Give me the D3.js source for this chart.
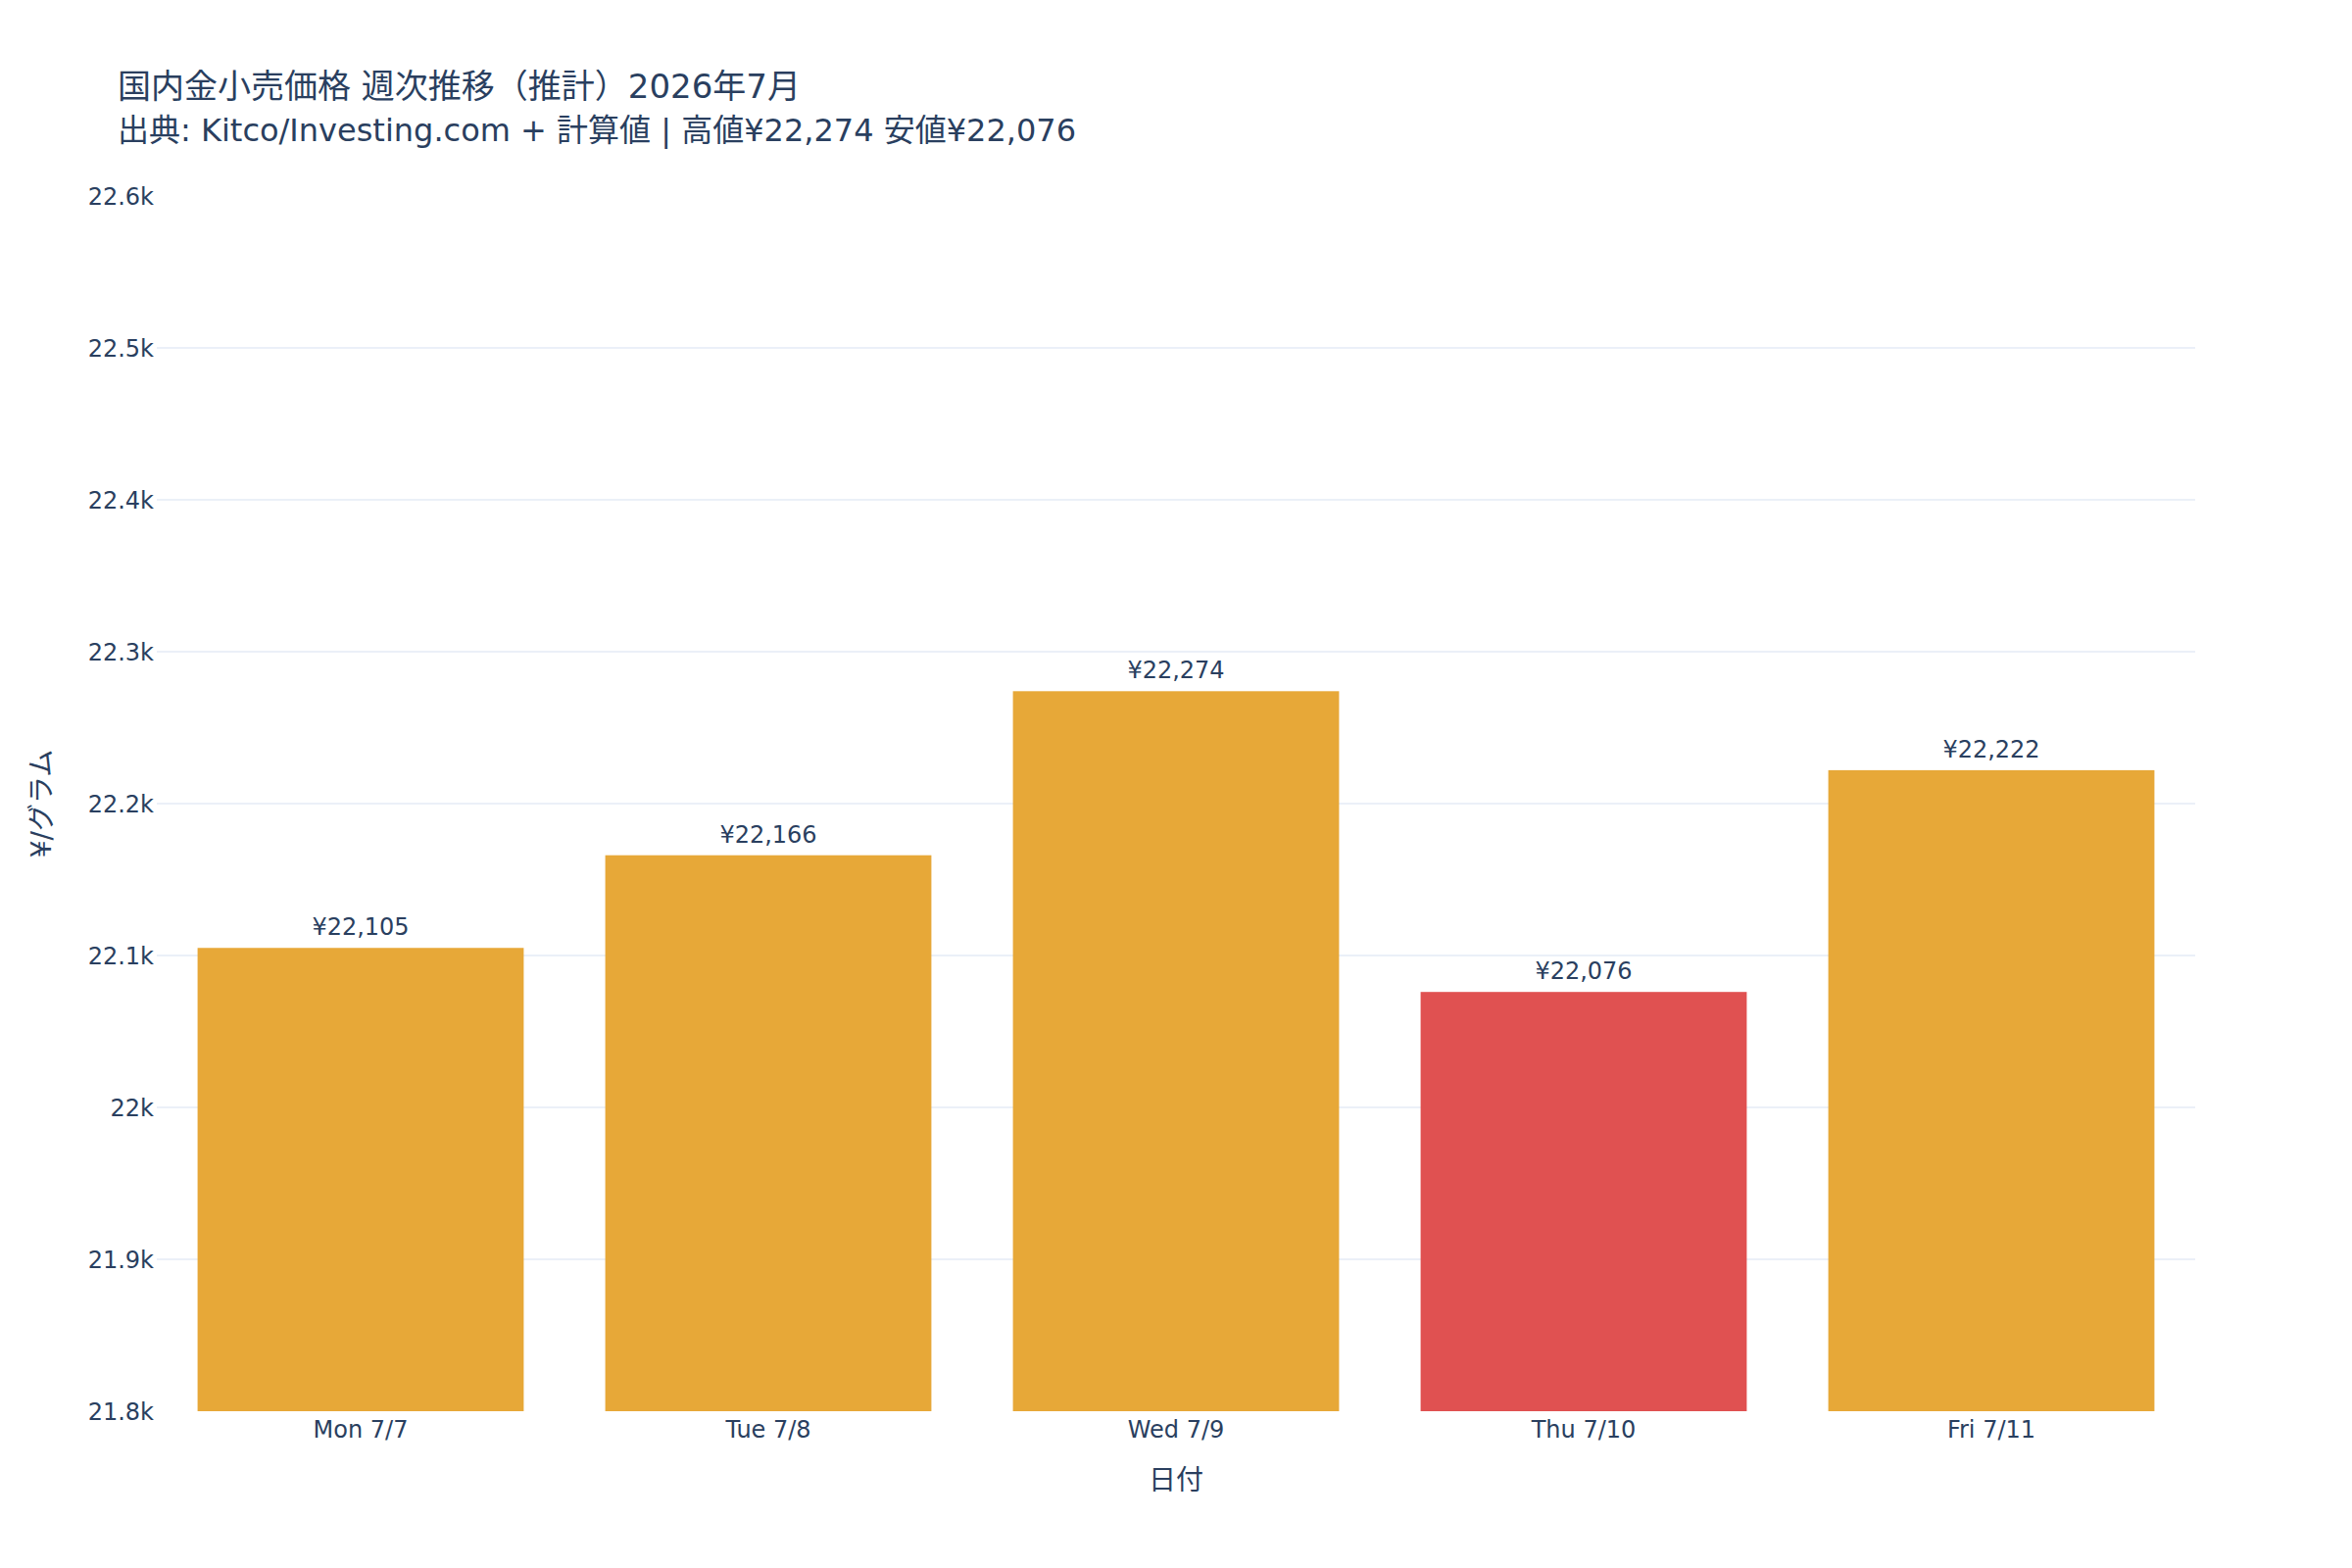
<!DOCTYPE html>
<html>
<head>
<meta charset="utf-8">
<script src="https://cdn.jsdelivr.net/npm/d3@7"></script>
<style>
  html, body { margin: 0; padding: 0; background: #fff; }
  svg text { font-family: "DejaVu Sans", "Noto Sans CJK JP", sans-serif; fill: #2a3f5f; }
</style>
</head>
<body>
<svg id="chart" width="2400" height="1600"></svg>
<script>
// ---- data ----
const categories = ["Mon 7/7", "Tue 7/8", "Wed 7/9", "Thu 7/10", "Fri 7/11"];
const prices = [22105, 22166, 22274, 22076, 22222];
const valueLabels = ["¥22,105", "¥22,166", "¥22,274", "¥22,076", "¥22,222"];
const barColors = ["#E7A838", "#E7A838", "#E7A838", "#E05151", "#E7A838"];
const yTicks = [21800, 21900, 22000, 22100, 22200, 22300, 22400, 22500, 22600];
const titleLine1 = "国内金小売価格 週次推移（推計）2026年7月";
const titleLine2 = "出典: Kitco/Investing.com + 計算値 | 高値¥22,274 安値¥22,076";
const xTitle = "日付";
const yTitle = "¥/グラム";

// ---- layout ----
const W = 2400, H = 1600;
const m = { l: 160, r: 160, t: 200, b: 160 };
const svg = d3.select("#chart");

const x = d3.scaleBand().domain(categories).range([m.l, W - m.r]).paddingInner(0.2).paddingOuter(0.1);
const y = d3.scaleLinear().domain([21800, 22600]).range([H - m.b, m.t]);
const fmt = d3.format(".3~s");

// gridlines
svg.append("g").selectAll("line")
  .data(yTicks.filter(t => t !== 21800 && t !== 22600))
  .join("line")
  .attr("x1", m.l).attr("x2", W - m.r)
  .attr("y1", d => y(d)).attr("y2", d => y(d))
  .attr("stroke", "#EBF0F8").attr("stroke-width", 2);

// y tick labels
svg.append("g").selectAll("text")
  .data(yTicks).join("text")
  .attr("x", m.l - 3).attr("y", d => y(d)).attr("dy", "0.36em")
  .attr("text-anchor", "end").attr("font-size", 24)
  .text(d => fmt(d));

// bars
svg.append("g").selectAll("rect")
  .data(prices).join("rect")
  .attr("x", (d, i) => x(categories[i]))
  .attr("width", x.bandwidth())
  .attr("y", d => y(d))
  .attr("height", d => y(21800) - y(d))
  .attr("fill", (d, i) => barColors[i]);

// value labels
svg.append("g").selectAll("text")
  .data(prices).join("text")
  .attr("x", (d, i) => x(categories[i]) + x.bandwidth() / 2)
  .attr("y", d => y(d) - 13)
  .attr("text-anchor", "middle").attr("font-size", 24)
  .text((d, i) => valueLabels[i]);

// x tick labels
svg.append("g").selectAll("text")
  .data(categories).join("text")
  .attr("x", d => x(d) + x.bandwidth() / 2)
  .attr("y", 1467)
  .attr("text-anchor", "middle").attr("font-size", 24)
  .text(d => d);

// axis titles
svg.append("text").attr("x", (m.l + W - m.r) / 2).attr("y", 1520)
  .attr("text-anchor", "middle").attr("font-size", 28).text(xTitle);
svg.append("text")
  .attr("transform", `translate(42,${(m.t + H - m.b) / 2}) rotate(-90)`)
  .attr("text-anchor", "middle").attr("dominant-baseline", "central")
  .attr("font-size", 28).text(yTitle);

// title
svg.append("text").attr("x", 120).attr("y", 100).attr("font-size", 34).text(titleLine1);
svg.append("text").attr("x", 120).attr("y", 144).attr("font-size", 32).text(titleLine2);
</script>
</body>
</html>
